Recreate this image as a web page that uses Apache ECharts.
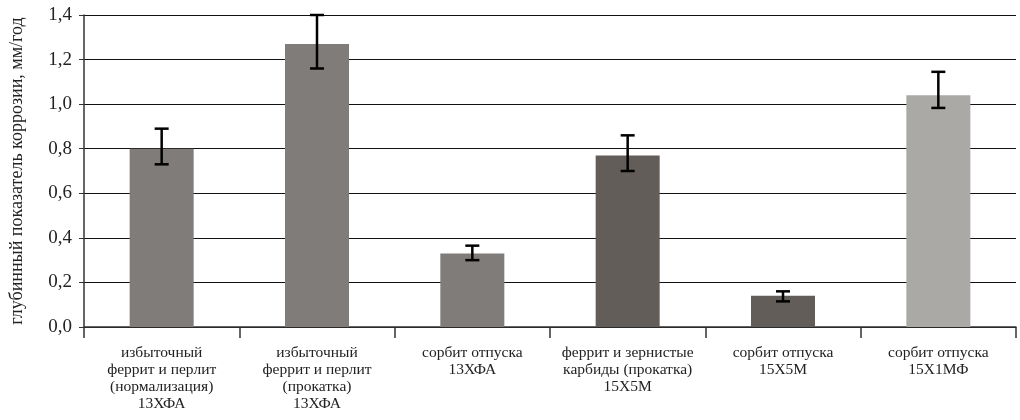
<!DOCTYPE html>
<html><head><meta charset="utf-8">
<script src="https://cdn.jsdelivr.net/npm/echarts@6/dist/echarts.min.js"></script>
<style>html,body{margin:0;padding:0;background:#fff}#c{width:1020px;height:420px}</style>
</head><body><div id="c"></div>
<script>
const categories = [
  'избыточный\nферрит и перлит\n(нормализация)\n13ХФА',
  'избыточный\nферрит и перлит\n(прокатка)\n13ХФА',
  'сорбит отпуска\n13ХФА',
  'феррит и зернистые\nкарбиды (прокатка)\n15Х5М',
  'сорбит отпуска\n15Х5М',
  'сорбит отпуска\n15Х1МФ'
];
const values = [0.80, 1.27, 0.33, 0.77, 0.14, 1.04];
const errLow = [0.73, 1.16, 0.30, 0.70, 0.115, 0.983];
const errHigh = [0.89, 1.40, 0.365, 0.86, 0.16, 1.145];
const barColors = ['#807c79', '#807c79', '#807c79', '#625d58', '#625d58', '#aaa9a5'];
const yTicks = ['0,0', '0,2', '0,4', '0,6', '0,8', '1,0', '1,2', '1,4'];
const yTitle = 'глубинный показатель коррозии, мм/год';

const FONT = '"Liberation Serif", "DejaVu Serif", serif';
const chart = echarts.init(document.getElementById('c'));
chart.setOption({
  animation: false,
  grid: { left: 83, right: 4, top: 15, bottom: 93 },
  xAxis: {
    type: 'category',
    data: categories,
    axisLine: { lineStyle: { color: '#333', width: 1.5 } },
    axisTick: { show: true, length: 11, lineStyle: { color: '#333', width: 1.5 } },
    axisLabel: { interval: 0, fontFamily: FONT, fontSize: 15.5, color: '#222', lineHeight: 17, margin: 17 }
  },
  yAxis: {
    type: 'value', min: 0, max: 1.4, interval: 0.2,
    name: yTitle, nameLocation: 'middle', nameGap: 58,
    nameTextStyle: { fontFamily: FONT, fontSize: 18, color: '#222' },
    axisLine: { show: true, lineStyle: { color: '#333', width: 1.5 } },
    axisTick: { show: true, length: 5, lineStyle: { color: '#333' } },
    splitLine: { lineStyle: { color: '#111', width: 1.2 } },
    axisLabel: {
      fontFamily: FONT, fontSize: 19, color: '#222', margin: 12,
      formatter: function (v) { return yTicks[Math.round(v / 0.2)]; }
    }
  },
  series: [
    {
      type: 'bar', barWidth: 64,
      data: values.map((v, i) => ({ value: v, itemStyle: { color: barColors[i] } })),
      z: 2
    },
    {
      type: 'custom', z: 5,
      data: values.map((v, i) => [i, errLow[i], errHigh[i]]),
      renderItem: function (params, api) {
        const x = api.value(0);
        const lo = api.coord([x, api.value(1)]);
        const hi = api.coord([x, api.value(2)]);
        const hw = 7;
        const st = { stroke: '#000', lineWidth: 2.5 };
        return {
          type: 'group',
          children: [
            { type: 'line', shape: { x1: lo[0], y1: lo[1], x2: hi[0], y2: hi[1] }, style: st },
            { type: 'line', shape: { x1: lo[0] - hw, y1: lo[1], x2: lo[0] + hw, y2: lo[1] }, style: st },
            { type: 'line', shape: { x1: hi[0] - hw, y1: hi[1], x2: hi[0] + hw, y2: hi[1] }, style: st }
          ]
        };
      }
    }
  ]
});
</script></body></html>
